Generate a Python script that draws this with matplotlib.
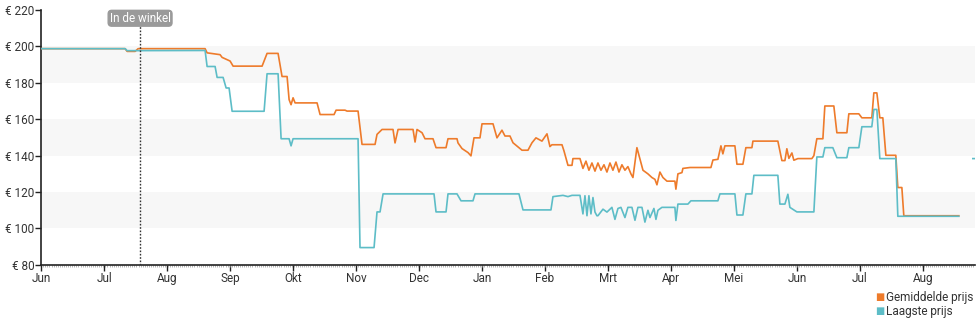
import matplotlib
matplotlib.use("Agg")
import matplotlib.pyplot as plt
import numpy as np

plt.rcParams['font.family'] = ['Roboto', 'DejaVu Sans']

# x = months since the first June tick, y = price in euro
months = ['Jun', 'Jul', 'Aug', 'Sep', 'Okt', 'Nov', 'Dec', 'Jan', 'Feb',
          'Mrt', 'Apr', 'Mei', 'Jun', 'Jul', 'Aug']

avg_x = [0.00, 1.333, 1.365, 1.492, 1.540, 2.603, 2.635, 2.841, 2.873, 3.000,
         3.048, 3.508, 3.587, 3.762, 3.825, 3.905, 3.937, 3.968, 4.000, 4.032,
         4.381, 4.429, 4.651, 4.683, 4.825, 4.857, 5.032, 5.095, 5.302, 5.333,
         5.413, 5.587, 5.619, 5.667, 5.905, 5.937, 5.968, 6.048, 6.095, 6.222,
         6.270, 6.429, 6.460, 6.603, 6.619, 6.683, 6.778, 6.825, 6.873, 6.968,
         7.000, 7.175, 7.238, 7.317, 7.365, 7.444, 7.492, 7.635, 7.730, 7.794,
         7.857, 7.952, 8.032, 8.079, 8.111, 8.270, 8.302, 8.365, 8.429, 8.444,
         8.556, 8.603, 8.651, 8.698, 8.746, 8.794, 8.841, 8.889, 8.937, 8.984,
         9.032, 9.079, 9.127, 9.175, 9.222, 9.270, 9.317, 9.365, 9.397, 9.460,
         9.556, 9.635, 9.698, 9.746, 9.778, 9.825, 9.873, 9.937, 10.063, 10.079,
         10.111, 10.175, 10.190, 10.302, 10.635, 10.667, 10.746, 10.794, 10.825, 10.857,
         11.016, 11.048, 11.143, 11.190, 11.286, 11.302, 11.698, 11.762, 11.810, 11.841,
         11.873, 11.921, 11.952, 12.016, 12.238, 12.270, 12.317, 12.413, 12.444, 12.587,
         12.635, 12.794, 12.825, 12.984, 13.032, 13.190, 13.222, 13.270, 13.317, 13.365,
         13.413, 13.571, 13.603, 13.667, 13.698, 14.571]
avg_y = [198.8, 198.8, 197.3, 197.3, 198.8, 198.8, 196.5, 195.5, 194, 192,
         189.2, 189.2, 196.2, 196.2, 183.5, 183.5, 170.8, 168, 171.8, 169,
         169, 162.6, 162.6, 165, 165, 164.5, 164.5, 146.2, 146.2, 151.7,
         154.4, 154.4, 147, 154.4, 154.4, 147.5, 154.4, 152.6, 149.3, 149.3,
         144.4, 144.4, 149.3, 149.3, 147, 143.9, 141.7, 139.9, 149.8, 149.8,
         157.5, 157.5, 149.8, 154, 150.8, 150.8, 147.1, 143, 143, 147.1,
         149.8, 148, 152, 145, 146, 146, 142.6, 134.7, 134.7, 138.4,
         138.4, 133, 137, 132, 136, 131.5, 136, 132, 135, 131,
         136, 132, 136.5, 131, 135, 132, 134, 130, 128, 144.4,
         132, 130, 128, 127, 124, 131, 128, 126, 126, 121.6,
         130, 130.7, 133, 133.5, 133.5, 137.6, 138, 145.4, 141, 145.4,
         145.4, 135.3, 135.3, 144.4, 144.4, 148, 148, 137.3, 137.3, 143.8,
         138.5, 141.5, 137.5, 138.4, 138.4, 140, 149.3, 149.3, 167.3, 167.3,
         152.6, 152.6, 163, 163, 160.8, 160.8, 174.5, 174.5, 160.8, 160.8,
         140.2, 140.2, 122.5, 122.5, 107, 107]

low_x = [0.00, 1.333, 1.365, 2.603, 2.635, 2.762, 2.794, 2.889, 2.937, 2.984,
         3.032, 3.540, 3.587, 3.762, 3.810, 3.937, 3.968, 4.000, 5.032, 5.063,
         5.286, 5.333, 5.381, 5.429, 6.238, 6.270, 6.429, 6.460, 6.603, 6.667,
         6.857, 6.889, 7.587, 7.651, 8.095, 8.127, 8.286, 8.365, 8.429, 8.556,
         8.603, 8.635, 8.667, 8.698, 8.730, 8.762, 8.794, 8.825, 8.841, 8.921,
         8.984, 9.063, 9.111, 9.159, 9.206, 9.270, 9.317, 9.381, 9.429, 9.476,
         9.540, 9.587, 9.635, 9.667, 9.730, 9.762, 9.794, 9.857, 10.063, 10.079,
         10.111, 10.270, 10.317, 10.746, 10.778, 11.016, 11.048, 11.143, 11.190, 11.286,
         11.317, 11.698, 11.730, 11.810, 11.857, 11.889, 12.000, 12.270, 12.317, 12.413,
         12.444, 12.571, 12.635, 12.794, 12.825, 12.984, 13.032, 13.190, 13.222, 13.270,
         13.317, 13.571, 13.603, 14.571, np.nan, 14.794, 14.841]
low_y = [198.8, 198.8, 197.7, 197.8, 189, 189, 183, 183, 177.2, 177.2,
         164.4, 164.4, 185, 185, 149.3, 149.3, 145.4, 149.3, 149.3, 89.5,
         89.5, 109.1, 109.1, 119, 119, 109.1, 109.1, 119, 119, 115.2,
         115.2, 119, 119, 110.2, 110.2, 117.5, 118.2, 117.5, 118.2, 118.2,
         108, 118, 107, 118, 108, 117, 109, 107, 107, 110.6,
         109, 111.6, 105, 111, 111.6, 106, 111.6, 111.6, 104.5, 111.6,
         111.6, 103.5, 110, 106, 111, 105, 110, 111.6, 111.6, 104.4,
         113.4, 113.4, 115.2, 115.2, 119, 119, 107.4, 107.4, 119, 119,
         129.2, 129.2, 113.4, 113.4, 118.8, 111.6, 109.1, 109.1, 139.3, 139.3,
         144.4, 144.4, 138.9, 138.9, 144.4, 144.4, 155.9, 155.9, 165.4, 165.4,
         138.4, 138.4, 106.7, 106.7, np.nan, 138.4, 138.4]

store_x = 1.571
orange = '#ee7b2b'
teal = '#5dbdc7'

fig = plt.figure(figsize=(9.8, 3.25), dpi=100)
ax = fig.add_axes([0.042, 0.185, 0.953, 0.784])

for lo in (100, 140, 180):
    ax.axhspan(lo, lo + 20, color='#f7f7f7', zorder=0, lw=0)

ax.plot(avg_x, avg_y, color=orange, lw=1.2, zorder=3)
ax.plot(low_x, low_y, color=teal, lw=1.2, zorder=4)

ax.axvline(store_x, color='#333333', lw=1, ls=(0, (1.2, 1.2)), zorder=5)
ax.text(store_x, 215.5, 'In de winkel', ha='center', va='center', fontsize=8.5,
        color='white', zorder=6,
        bbox=dict(boxstyle='round,pad=0.12,rounding_size=0.3', fc='#9a9a9a', ec='#9a9a9a'))

ax.set_xlim(0, 14.83)
ax.set_ylim(80, 220)
ax.set_xticks(range(len(months)))
ax.set_xticklabels(months)
ax.set_xticks(np.arange(0, 14.83, 1 / 30.4), minor=True)
ax.set_yticks(range(80, 221, 20))
ax.set_yticklabels(['€ %d' % v for v in range(80, 221, 20)])

for s in ('top', 'right'):
    ax.spines[s].set_visible(False)
for s in ('left', 'bottom'):
    ax.spines[s].set_color('#222222')
    ax.spines[s].set_linewidth(1.2)

ax.tick_params(axis='both', which='major', length=4, width=1, color='#222222',
               labelsize=8.5, labelcolor='#333333', pad=1)
ax.tick_params(axis='x', which='minor', length=1.5, width=0.5, color='#999999')

# legend drawn as small squares with text, bottom right
fig.text(0.893, 0.085, '■', color=orange, fontsize=7, ha='left', va='center')
fig.text(0.904, 0.085, 'Gemiddelde prijs', color='#333333', fontsize=8.5, ha='left', va='center')
fig.text(0.893, 0.042, '■', color=teal, fontsize=7, ha='left', va='center')
fig.text(0.904, 0.042, 'Laagste prijs', color='#333333', fontsize=8.5, ha='left', va='center')

fig.savefig('out.png', dpi=100)
